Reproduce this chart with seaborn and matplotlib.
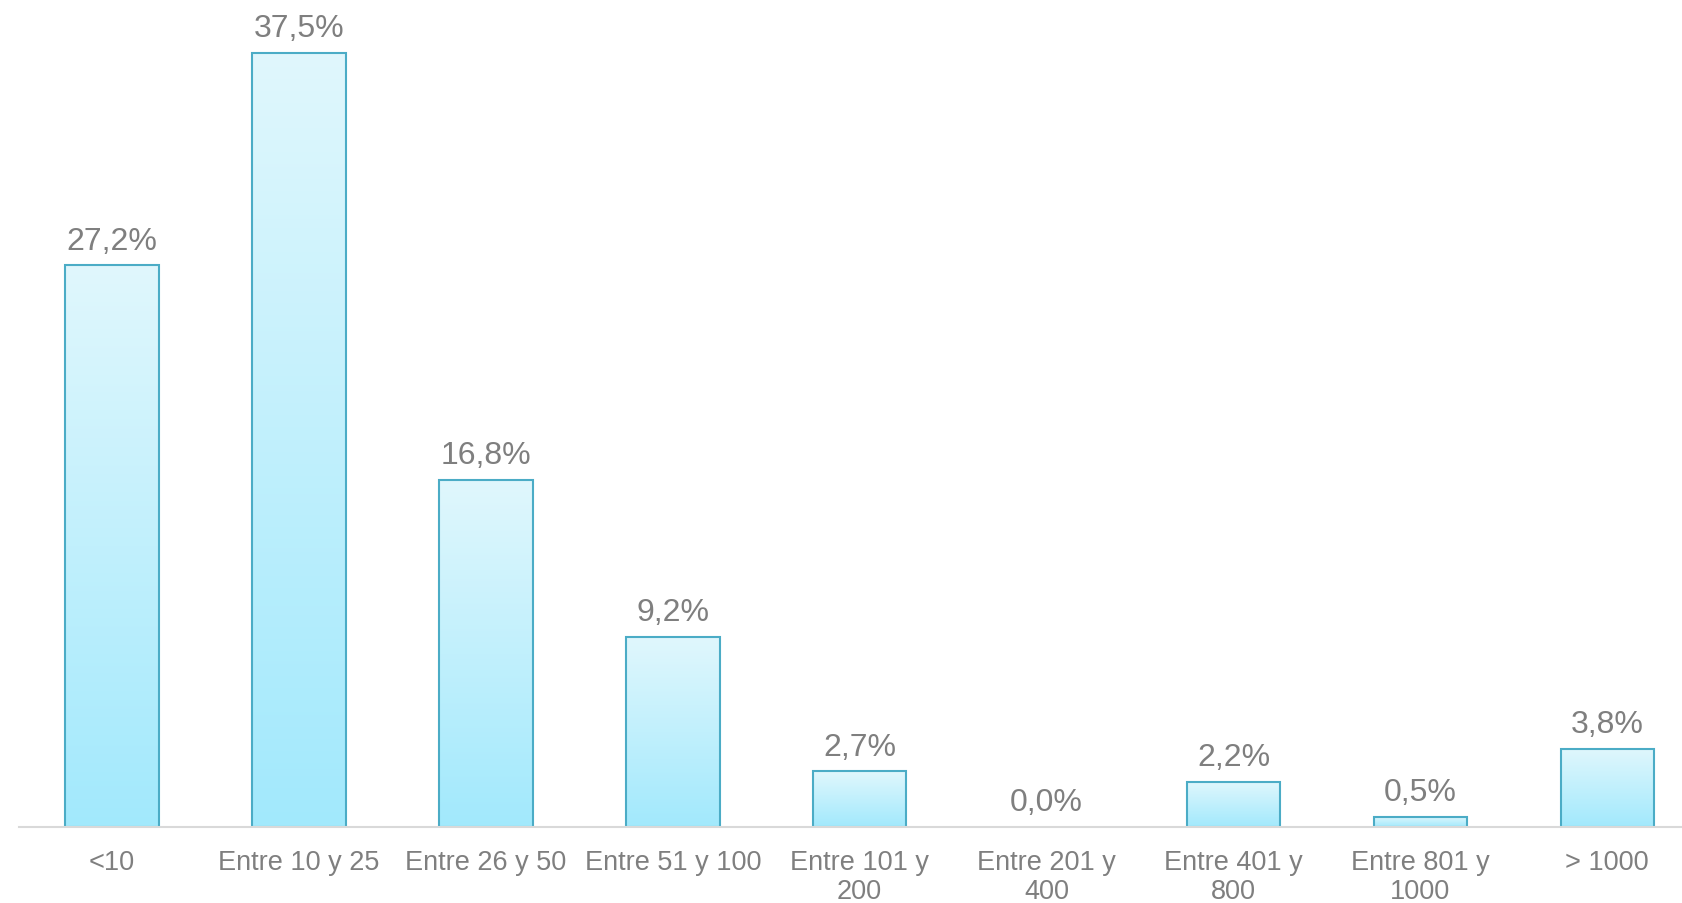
import numpy as np
import pandas as pd
import matplotlib
matplotlib.use('Agg')
import matplotlib.pyplot as plt
import seaborn as sns
from matplotlib.colors import LinearSegmentedColormap

# Datos del gráfico
categorias = ['<10', 'Entre 10 y 25', 'Entre 26 y 50', 'Entre 51 y 100',
              'Entre 101 y\n200', 'Entre 201 y\n400', 'Entre 401 y\n800',
              'Entre 801 y\n1000', '> 1000']
porcentajes = [27.2, 37.5, 16.8, 9.2, 2.7, 0.0, 2.2, 0.5, 3.8]
etiquetas = ['27,2%', '37,5%', '16,8%', '9,2%', '2,7%', '0,0%', '2,2%', '0,5%', '3,8%']

df = pd.DataFrame({'categoria': categorias, 'porcentaje': porcentajes})

sns.set_style('white')
plt.rcParams['font.family'] = ['Liberation Sans', 'DejaVu Sans']

gris = '#7F7F7F'
borde = '#4BACC6'

fig = plt.figure(figsize=(16.82, 9.04), dpi=100)
# el eje se sale un poco por la derecha, como en el original
ax = fig.add_axes([0.0111, 0.0841, 1.0, 0.9159])

sns.barplot(data=df, x='categoria', y='porcentaje', ax=ax, width=0.5,
            color='#C0F0FD', edgecolor=borde, linewidth=1.5, saturation=1)

# Relleno degradado dentro de cada barra
cmap = LinearSegmentedColormap.from_list('grad', ['#A2E9FC', '#E0F7FD'])
grad = np.linspace(0, 1, 256).reshape(-1, 1)
for p in ax.patches:
    x0, y0 = p.get_x(), p.get_y()
    w, h = p.get_width(), p.get_height()
    if h <= 0:
        p.set_visible(False)
        continue
    p.set_facecolor('none')
    im = ax.imshow(grad, cmap=cmap, aspect='auto', origin='lower',
                   extent=[x0, x0 + w, y0, y0 + h], zorder=p.get_zorder() - 0.1)
    im.set_clip_path(p)
ax.set_xlim(-0.5, 8.5)
ax.set_ylim(0, 40.1)

# Etiquetas de datos
for i, (v, t) in enumerate(zip(porcentajes, etiquetas)):
    ax.annotate(t, (i, v), xytext=(0, 12), textcoords='offset points',
                ha='center', va='baseline', fontsize=23, color=gris)

sns.despine(ax=ax, left=True, top=True, right=True)
ax.spines['bottom'].set_color('#D9D9D9')
ax.spines['bottom'].set_linewidth(1.5)
ax.set_yticks([])
ax.set_xlabel('')
ax.set_ylabel('')
ax.tick_params(axis='x', length=0, pad=16, labelsize=19.5, labelcolor=gris)
for lab in ax.get_xticklabels():
    lab.set_linespacing(1.13)

fig.savefig('out.png', dpi=100)
